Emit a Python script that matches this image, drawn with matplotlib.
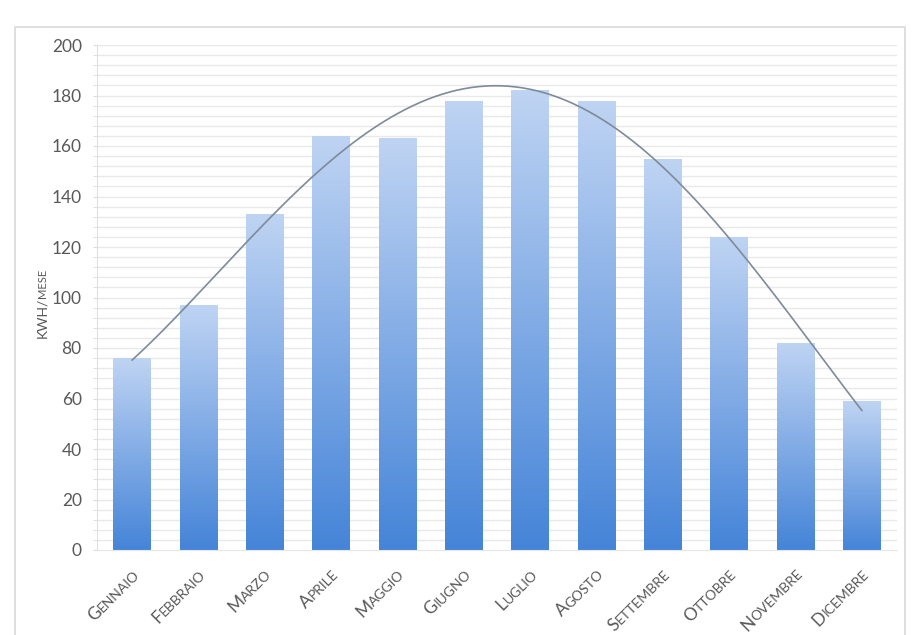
import numpy as np
import matplotlib.pyplot as plt
from matplotlib.colors import LinearSegmentedColormap
from matplotlib.patches import Rectangle

mesi = ["Gennaio", "Febbraio", "Marzo", "Aprile", "Maggio", "Giugno",
        "Luglio", "Agosto", "Settembre", "Ottobre", "Novembre", "Dicembre"]
kwh = [76, 97, 133, 164, 163, 178, 182, 178, 155, 124, 82, 59]
y_ticks = [0, 20, 40, 60, 80, 100, 120, 140, 160, 180, 200]

plt.rcParams['font.family'] = ['Lato', 'DejaVu Sans']
GRIGIO = "#595959"

fig = plt.figure(figsize=(9.21, 6.35), dpi=100)
renderer = fig.canvas.get_renderer()
# cornice grigia chiara attorno al grafico
fig.patches.append(Rectangle((15 / 921, -0.05), 890 / 921, 1.05 - 27 / 635,
                             transform=fig.transFigure, fill=False,
                             edgecolor="#d9d9d9", lw=1.2))

ax = fig.add_axes([97 / 921, 1 - 550 / 635, 800 / 921, 505 / 635])
x = np.arange(len(mesi))
w = 0.57

# griglia fitta ogni 4 kWh
for g in np.arange(4, 201, 4):
    ax.axhline(g, color="#e9e9e9", lw=1, zorder=0)

cmap = LinearSegmentedColormap.from_list("blu", ["#4584d8", "#bfd4f3"])
grad = np.linspace(0, 1, 256).reshape(-1, 1)
bars = ax.bar(x, kwh, width=w, color="none", edgecolor="none", zorder=2)
for b in bars:
    im = ax.imshow(grad, extent=[b.get_x(), b.get_x() + b.get_width(), 0, b.get_height()],
                   origin="lower", aspect="auto", cmap=cmap, zorder=2)
    im.set_clip_path(b)

# linea di tendenza polinomiale
coef = np.polyfit(x, kwh, 4)
xs = np.linspace(0, 11, 300)
ax.plot(xs, np.polyval(coef, xs), color="#7f8a9a", lw=1.2, zorder=3)

ax.set_xlim(-0.53, 11.53)
ax.set_ylim(0, 200)
ax.set_yticks(y_ticks)
ax.set_yticks(np.arange(0, 201, 4), minor=True)
ax.tick_params(axis="y", which="both", colors="#dcdcdc", labelcolor=GRIGIO,
               labelsize=12.5, length=3, pad=8)
ax.set_xticks(x)
ax.set_xticklabels([])
ax.tick_params(axis="x", length=0)

for s in ["top", "right"]:
    ax.spines[s].set_visible(False)
ax.spines["left"].set_color("#e0e0e0")
ax.spines["bottom"].set_color("#e6e6e6")


def larghezza_pt(testo, size):
    t = fig.text(0, 0, testo, fontsize=size)
    wpx = t.get_window_extent(renderer).width
    t.remove()
    return wpx * 72 / fig.dpi


def maiuscoletto(xy, testo, angolo, coords, big=11, small=8.5):
    # prima lettera grande, resto in maiuscoletto, ancorato a destra
    ang = np.radians(angolo)
    resto = testo[1:].upper()
    ax.annotate(resto, xy, xycoords=coords, xytext=(0, 0), textcoords="offset points",
                fontsize=small, rotation=angolo, rotation_mode="anchor",
                ha="right", va="baseline", color=GRIGIO, annotation_clip=False)
    d = larghezza_pt(resto, small)
    ax.annotate(testo[0].upper(), xy, xycoords=coords,
                xytext=(-d * np.cos(ang), -d * np.sin(ang)), textcoords="offset points",
                fontsize=big, rotation=angolo, rotation_mode="anchor",
                ha="right", va="baseline", color=GRIGIO, annotation_clip=False)


trans = ax.get_xaxis_transform()
for i, m in enumerate(mesi):
    maiuscoletto((i + 0.12, -0.05), m, 45, trans, big=12.5, small=10)

# etichetta asse y: "KWH/" grande, "MESE" piccolo
ax.annotate("MESE", (-0.064, 0.5), xycoords="axes fraction", xytext=(0, 0),
            textcoords="offset points", fontsize=8, rotation=90,
            rotation_mode="anchor", ha="left", va="baseline", color=GRIGIO)
dk = larghezza_pt("KWH/", 10)
ax.annotate("KWH/", (-0.064, 0.5), xycoords="axes fraction", xytext=(0, -dk),
            textcoords="offset points", fontsize=10, rotation=90,
            rotation_mode="anchor", ha="left", va="baseline", color=GRIGIO)

plt.savefig("out.png", dpi=100)
